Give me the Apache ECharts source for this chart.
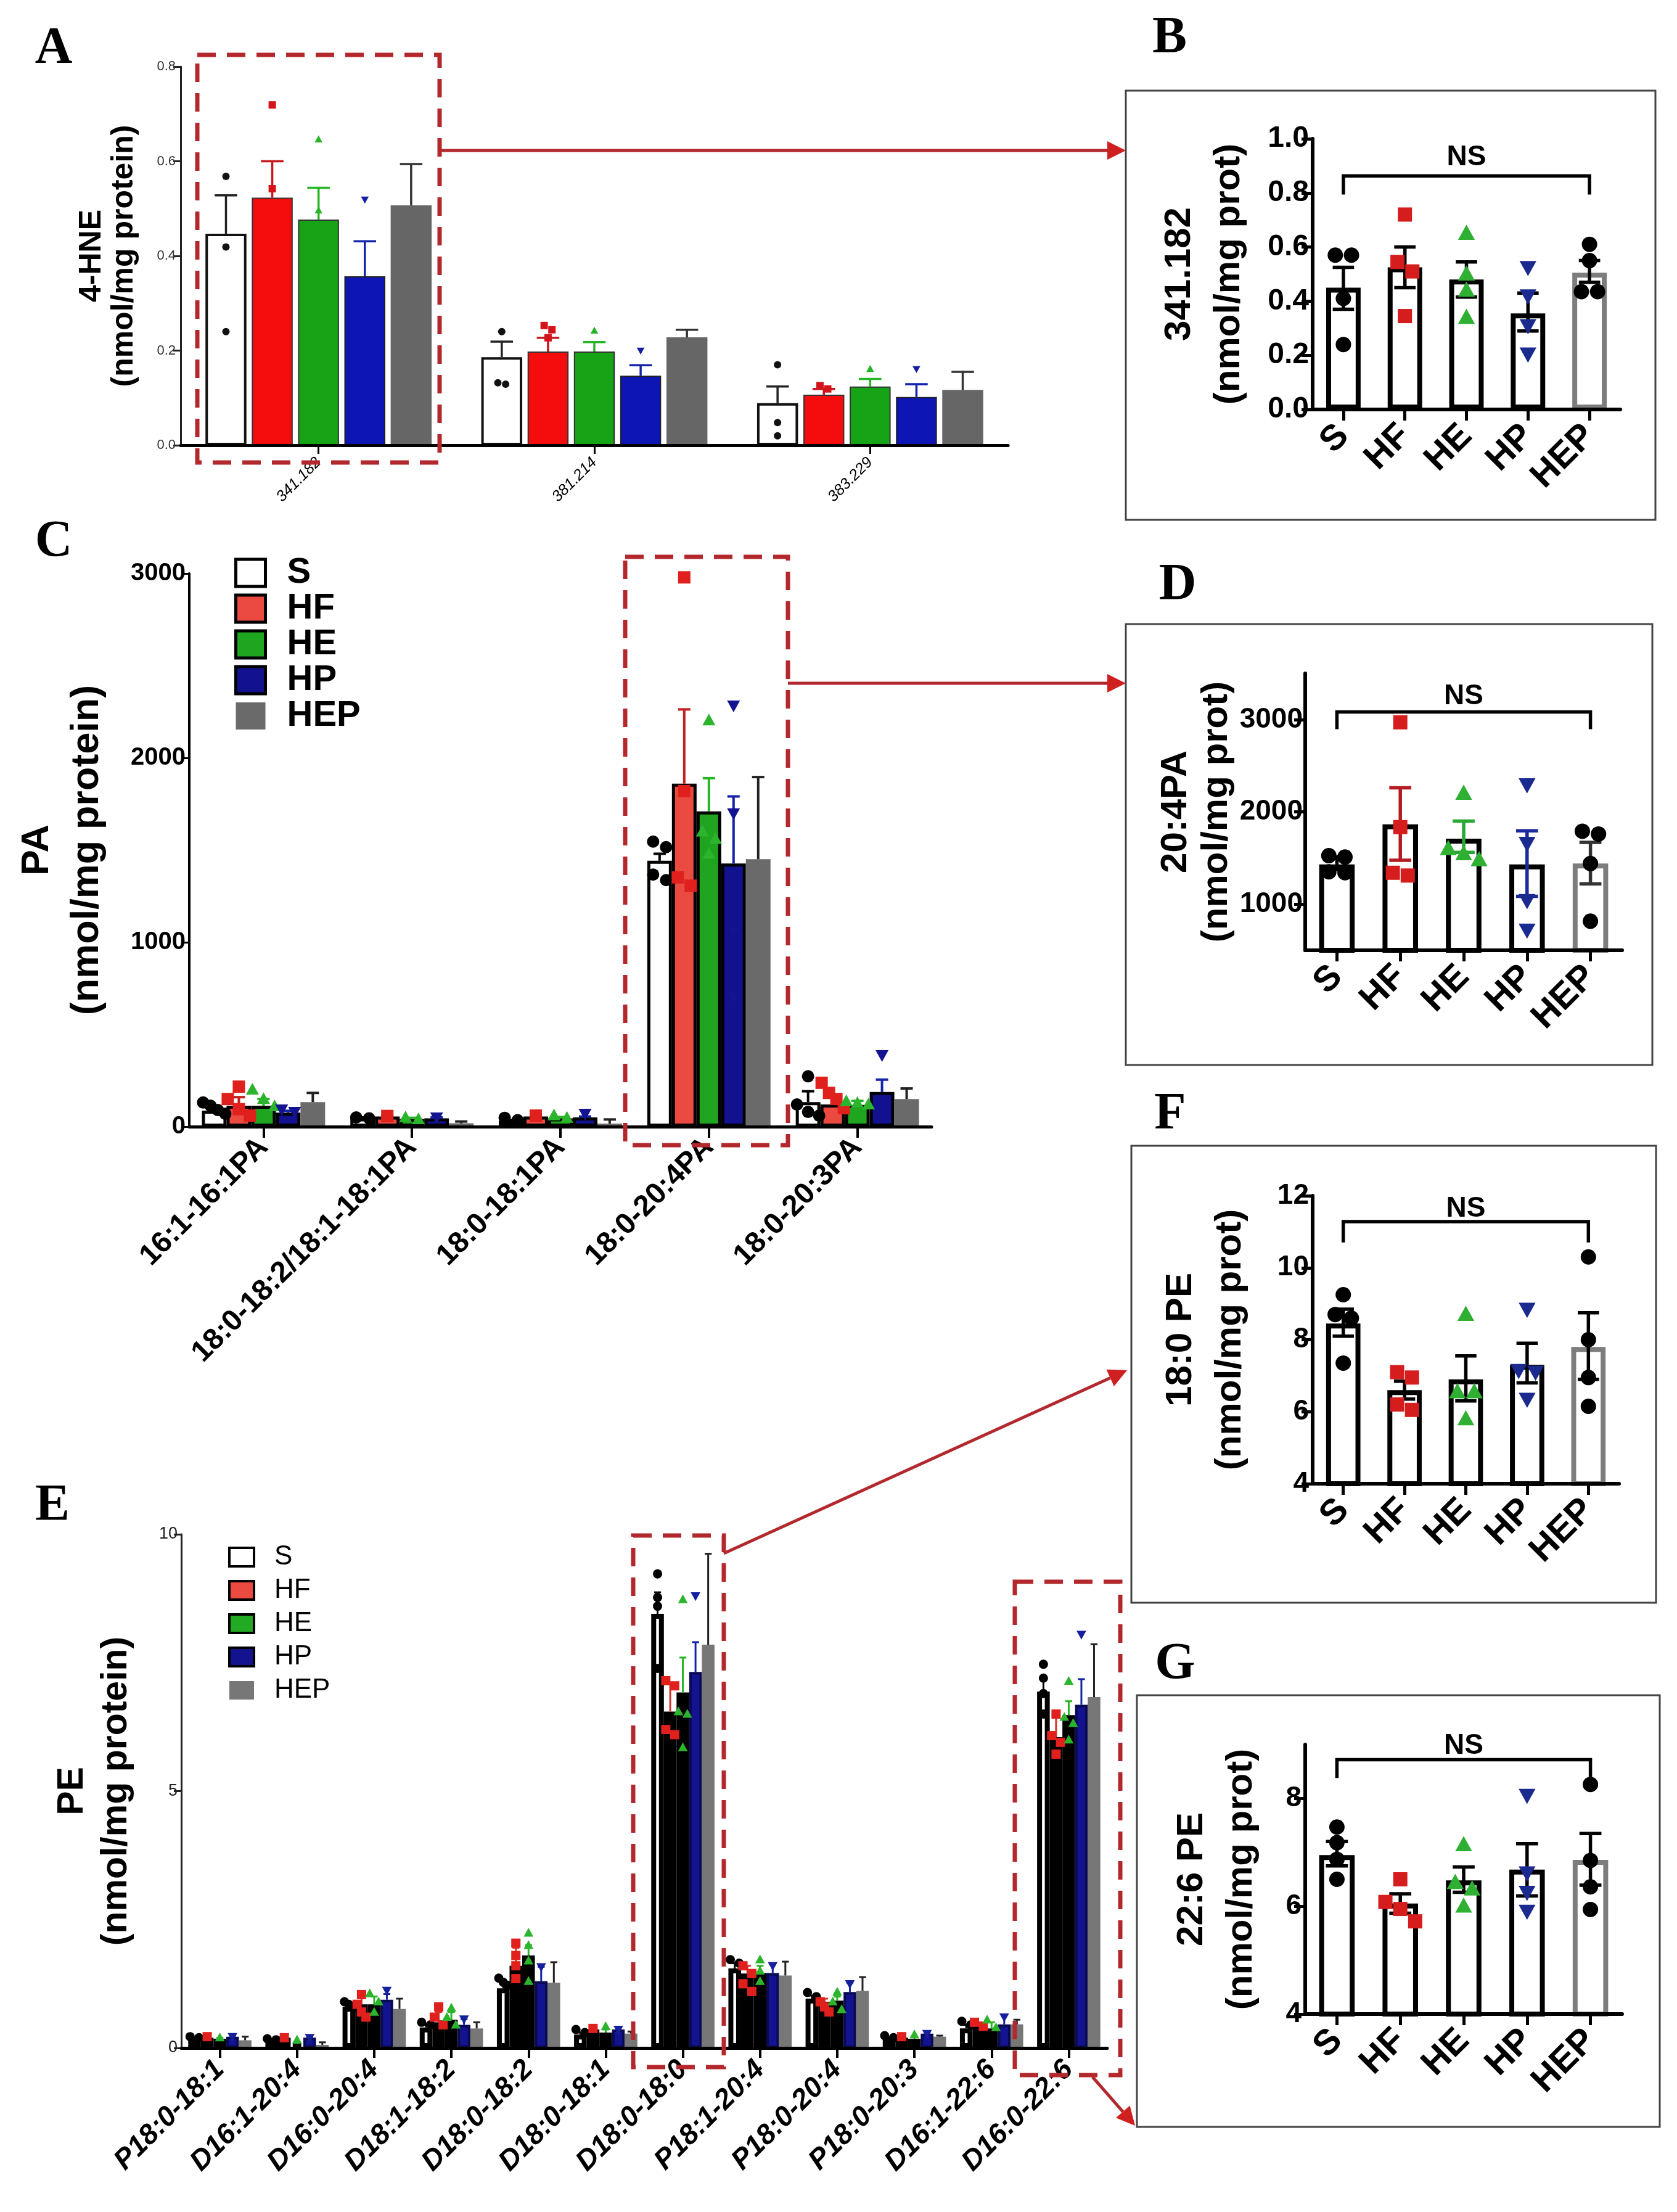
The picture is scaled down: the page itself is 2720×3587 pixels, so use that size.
<!DOCTYPE html>
<html><head><meta charset="utf-8">
<script src="https://cdn.jsdelivr.net/npm/echarts@6/dist/echarts.min.js"></script>
<style>html,body{margin:0;padding:0;background:#fff;}#c{width:2720px;height:3587px;}</style>
</head><body><div id="c"></div>
<script>
// ---------------- DATA ----------------
const GROUPS = ['S', 'HF', 'HE', 'HP', 'HEP'];

// Panel A : 4-HNE (mean, upper SEM end, individual points)
const A_cats = ['341.182', '381.214', '383.229'];
const A_S_mean = [0.447, 0.186, 0.089];
const A_S_hi = [0.528, 0.219, 0.124];
const A_S_pts = [[0.568, 0.419, 0.240], [0.240, 0.132, 0.129], [0.170, 0.048, 0.020]];
const A_HF_mean = [0.523, 0.198, 0.107];
const A_HF_hi = [0.600, 0.227, 0.119];
const A_HF_pts = [[0.719, 0.542], [0.253, 0.244, 0.227], [0.126, 0.119]];
const A_HE_mean = [0.477, 0.198, 0.124];
const A_HE_hi = [0.544, 0.218, 0.140];
const A_HE_pts = [[0.646, 0.496], [0.242], [0.161]];
const A_HP_mean = [0.357, 0.147, 0.102];
const A_HP_hi = [0.431, 0.169, 0.129];
const A_HP_pts = [[0.519], [0.200], [0.161]];
const A_HEP_mean = [0.507, 0.228, 0.117];
const A_HEP_hi = [0.594, 0.244, 0.155];
const A_HEP_pts = [[], [], []];

// Panel B : 341.182
const B_mean = [0.45, 0.525, 0.48, 0.355, 0.505];
const B_lo = [0.37, 0.45, 0.415, 0.29, 0.47];
const B_hi = [0.525, 0.60, 0.545, 0.43, 0.55];
const B_pts = [[0.57, 0.57, 0.41, 0.24], [0.72, 0.545, 0.51, 0.345], [0.65, 0.50, 0.44, 0.34], [0.525, 0.42, 0.31, 0.205], [0.61, 0.55, 0.435, 0.435]];

// Panel C : PA
const C_cats = ['16:1-16:1PA', '18:0-18:2/18:1-18:1PA', '18:0-18:1PA', '18:0-20:4PA', '18:0-20:3PA'];
const C_S_mean = [87, 45, 30, 1442, 133];
const C_S_hi = [100, 50, 36, 1480, 192];
const C_S_pts = [[131, 114, 90, 70], [50, 45], [48, 35], [1546, 1516, 1367, 1337], [273, 120, 80, 60]];
const C_HF_mean = [114, 55, 55, 1860, 120];
const C_HF_hi = [160, 60, 60, 2263, 165];
const C_HF_pts = [[217, 150, 95, 60], [58], [60], [2979, 1820, 1352, 1307], [238, 183, 150, 100]];
const C_HE_mean = [114, 42, 45, 1710, 118];
const C_HE_hi = [150, 48, 52, 1890, 140];
const C_HE_pts = [[201, 150, 110], [50, 40], [61, 48], [2203, 1600, 1560, 1480], [138, 128, 120]];
const C_HP_mean = [76, 45, 50, 1427, 188];
const C_HP_hi = [86, 50, 55, 1791, 255];
const C_HP_pts = [[94, 80], [50], [70], [2284, 1700, 1050, 700], [388]];
const C_HEP_mean = [133, 18, 17, 1451, 150];
const C_HEP_hi = [183, 28, 39, 1896, 207];
const C_HEP_pts = [[], [], [], [], []];

// Panel D : 20:4PA
const D_mean = [1430, 1865, 1710, 1430, 1440];
const D_lo = [1375, 1475, 1560, 1085, 1220];
const D_hi = [1510, 2260, 1900, 1795, 1670];
const D_pts = [[1525, 1510, 1350, 1340], [2970, 1835, 1340, 1310], [2200, 1600, 1545, 1480], [2295, 1660, 1040, 720], [1790, 1760, 1440, 815]];
const D_ticks = [1000, 2000, 3000];

// Panel E : PE
const E_cats = ['P18:0-18:1', 'D16:1-20:4', 'D16:0-20:4', 'D18:1-18:2', 'D18:0-18:2', 'D18:0-18:1', 'D18:0-18:0', 'P18:1-20:4', 'P18:0-20:4', 'P18:0-20:3', 'D16:1-22:6', 'D16:0-22:6'];
const E_S_mean = [0.18, 0.14, 0.80, 0.40, 1.16, 0.26, 8.45, 1.55, 0.96, 0.18, 0.38, 6.94];
const E_S_hi = [0.20, 0.16, 0.86, 0.45, 1.26, 0.30, 8.87, 1.65, 1.02, 0.20, 0.45, 7.20];
const E_S_pts = [[0.22, 0.20], [0.18, 0.16], [0.90, 0.85, 0.78], [0.50, 0.45], [1.36, 1.28, 1.22], [0.36, 0.30], [9.23, 8.77, 8.60, 7.39], [1.72, 1.65], [1.08, 1.00], [0.24, 0.20], [0.52, 0.45], [7.47, 7.20, 6.90, 6.50]];
const E_HF_mean = [0.20, 0.20, 0.85, 0.50, 1.60, 0.36, 6.55, 1.45, 0.90, 0.20, 0.45, 6.05];
const E_HF_hi = [0.22, 0.22, 1.00, 0.70, 1.95, 0.38, 7.10, 1.60, 0.96, 0.22, 0.50, 6.50];
const E_HF_pts = [[0.22], [0.20], [1.04, 0.85, 0.70, 0.60], [0.80, 0.60, 0.45], [2.04, 1.80, 1.60, 1.35], [0.38], [7.15, 7.05, 6.20, 6.10], [1.60, 1.45, 1.25, 1.10], [0.90, 0.80, 0.70], [0.22], [0.50, 0.42], [6.50, 6.08, 5.95, 5.72]];
const E_HE_mean = [0.18, 0.08, 0.85, 0.55, 1.80, 0.30, 6.92, 1.46, 0.92, 0.18, 0.38, 6.48];
const E_HE_hi = [0.20, 0.10, 1.00, 0.70, 2.00, 0.36, 7.60, 1.60, 1.00, 0.22, 0.50, 6.75];
const E_HE_pts = [[0.20], [0.16], [1.06, 0.90, 0.70], [0.78, 0.60, 0.45], [2.24, 2.00, 1.70, 1.30], [0.42], [8.73, 6.55, 6.50, 5.85], [1.72, 1.50, 1.30], [1.09, 0.90, 0.75], [0.26], [0.55, 0.40], [7.14, 6.44, 6.32, 6.00]];
const E_HP_mean = [0.22, 0.20, 0.94, 0.45, 1.30, 0.36, 7.32, 1.46, 1.09, 0.28, 0.46, 6.68];
const E_HP_hi = [0.24, 0.22, 1.05, 0.56, 1.58, 0.40, 7.90, 1.63, 1.27, 0.30, 0.65, 7.18];
const E_HP_pts = [[0.22], [0.20], [1.12], [0.56], [1.58], [0.36], [8.80], [1.60], [1.25], [0.28], [0.60], [8.05]];
const E_HEP_mean = [0.15, 0.06, 0.76, 0.38, 1.27, 0.28, 7.85, 1.41, 1.11, 0.22, 0.46, 6.83];
const E_HEP_hi = [0.22, 0.11, 0.96, 0.50, 1.67, 0.32, 9.62, 1.68, 1.38, 0.24, 0.55, 7.86];
const E_HEP_pts = [[], [], [], [], [], [], [], [], [], [], [], []];

// Panel F : 18:0 PE
const F_mean = [8.45, 6.6, 6.9, 7.3, 7.8];
const F_lo = [8.1, 6.35, 6.3, 6.8, 6.9];
const F_hi = [8.85, 6.85, 7.55, 7.9, 8.75];
const F_pts = [[9.25, 8.7, 8.6, 7.35], [7.1, 6.95, 6.2, 6.05], [8.7, 6.55, 6.55, 5.8], [8.85, 7.15, 7.1, 6.35], [10.3, 8.0, 6.95, 6.15]];

// Panel G : 22:6 PE
const G_mean = [6.95, 6.05, 6.48, 6.68, 6.86];
const G_lo = [6.75, 5.87, 6.26, 6.19, 6.39];
const G_hi = [7.2, 6.23, 6.73, 7.16, 7.35];
const G_pts = [[7.47, 7.18, 6.87, 6.5], [6.5, 6.08, 5.95, 5.72], [7.14, 6.44, 6.32, 6.0], [8.06, 6.62, 6.26, 5.91], [8.26, 6.85, 6.36, 5.94]];
const G_ticks = [4, 6, 8];

// ---------------- STYLE ----------------
const SANS = 'Liberation Sans, Arial, Helvetica, sans-serif';
const SERIF = 'Liberation Serif, Times New Roman, serif';
const RED = '#b3282d';
const SHAPES = ['circle', 'square', 'tri', 'itri', 'circle'];

function sym(shape, cx, cy, d, color) {
  const r = d / 2;
  if (shape === 'circle') return { type: 'circle', shape: { cx: cx, cy: cy, r: r }, style: { fill: color } };
  if (shape === 'square') return { type: 'rect', shape: { x: cx - r, y: cy - r, width: d, height: d }, style: { fill: color } };
  if (shape === 'tri') return { type: 'polygon', shape: { points: [[cx, cy - r * 1.1], [cx + r * 1.05, cy + r * 0.8], [cx - r * 1.05, cy + r * 0.8]] }, style: { fill: color } };
  return { type: 'polygon', shape: { points: [[cx - r * 1.05, cy - r * 0.8], [cx + r * 1.05, cy - r * 0.8], [cx, cy + r * 1.1]] }, style: { fill: color } };
}

function jitter(ys, k, d, maxStep) {
  const idx = ys.map((y, j) => j).sort((a, b) => ys[a] - ys[b]);
  const clusters = [];
  let cur = [idx[0]];
  for (let t = 1; t < idx.length; t++) {
    if (ys[idx[t]] - ys[cur[cur.length - 1]] < d * 0.9) cur.push(idx[t]);
    else { clusters.push(cur); cur = [idx[t]]; }
  }
  clusters.push(cur);
  for (const cl of clusters) {
    const pos = cl.indexOf(k);
    if (pos >= 0) {
      const step = Math.min(d * 1.05, cl.length > 1 ? maxStep / (cl.length - 1) : d);
      return (pos - (cl.length - 1) / 2) * step;
    }
  }
  return 0;
}

const grids = [], xAxes = [], yAxes = [], series = [];

function vAxis(o) {
  const ax = {
    type: 'value', gridIndex: o.g, min: o.min, max: o.max, interval: o.interval,
    axisLine: { show: true, onZero: false, lineStyle: { color: o.lineColor || '#000', width: o.lineWidth } },
    axisTick: { show: true, length: o.tickLen, lineStyle: { color: o.lineColor || '#000', width: o.tickWidth } },
    axisLabel: { fontFamily: SANS, fontSize: o.labelSize, fontWeight: o.labelWeight, color: o.labelColor || '#000', margin: o.labelMargin, formatter: o.fmt || (v => String(v)) },
    splitLine: { show: false },
    name: o.name, nameLocation: 'middle', nameRotate: 90, nameGap: o.nameGap,
    nameTextStyle: { fontFamily: SANS, fontSize: o.nameSize, fontWeight: 'bold', color: '#000', lineHeight: o.nameLH, align: 'center' }
  };
  if (o.custom) { ax.axisTick.customValues = o.custom; ax.axisLabel.customValues = o.custom; }
  return ax;
}
function cAxis(o) {
  return {
    type: 'category', gridIndex: o.g, data: o.cats, z: 10,
    axisLine: { show: true, onZero: false, lineStyle: { color: '#000', width: o.lineWidth } },
    axisTick: { show: true, alignWithLabel: true, length: o.tickLen, lineStyle: { color: '#000', width: o.tickWidth } },
    axisLabel: { interval: 0, rotate: 45, fontFamily: SANS, fontSize: o.labelSize, fontWeight: o.labelWeight || 'bold', fontStyle: o.italic ? 'italic' : 'normal', color: '#000', margin: o.labelMargin },
    splitLine: { show: false }
  };
}

function groupLayout(api, i, P) {
  const band = api.size([1, 0])[0];
  const remained = band * (1 - P.catGap);
  const w = remained / (5 + 4 * P.barGap);
  const widthSum = 5 * w + 4 * w * P.barGap;
  return { off: -widthSum / 2 + i * w * (1 + P.barGap) + w / 2, w: w };
}

function addGrouped(P) {
  P.means.forEach((m, i) => {
    series.push({
      type: 'bar', name: P.prefix + GROUPS[i], xAxisIndex: P.g, yAxisIndex: P.g, data: m,
      barGap: (P.barGap * 100) + '%', barCategoryGap: (P.catGap * 100) + '%',
      itemStyle: { color: P.fills[i], borderColor: P.borders[i], borderWidth: P.bws[i] }, z: 2, silent: true
    });
  });
  P.means.forEach((m, i) => {
    series.push({
      type: 'custom', xAxisIndex: P.g, yAxisIndex: P.g, z: 3, silent: true,
      data: m.map((v, c) => [c, v, P.his[i][c]]), encode: { x: 0, y: [1, 2] },
      renderItem: function (params, api) {
        const c = api.value(0); const L = groupLayout(api, i, P);
        const pm = api.coord([c, api.value(1)]), ph = api.coord([c, api.value(2)]);
        const x = pm[0] + L.off, hw = L.w * P.capFrac / 2;
        const st = { stroke: P.errColors[i], lineWidth: P.errW };
        return { type: 'group', children: [
          { type: 'line', shape: { x1: x, y1: pm[1], x2: x, y2: ph[1] }, style: st },
          { type: 'line', shape: { x1: x - hw, y1: ph[1], x2: x + hw, y2: ph[1] }, style: st }
        ] };
      }
    });
  });
  P.pts.forEach((arr, i) => {
    const data = [];
    arr.forEach((vals, c) => vals.forEach((v, k) => data.push([c, v, k])));
    series.push({
      type: 'custom', xAxisIndex: P.g, yAxisIndex: P.g, z: 4, silent: true, data: data, encode: { x: 0, y: 1 },
      renderItem: function (params, api) {
        const c = api.value(0), v = api.value(1), k = api.value(2);
        const L = groupLayout(api, i, P);
        const base = api.coord([c, v]);
        const ys = arr[c].map(val => api.coord([c, val])[1]);
        const dx = jitter(ys, k, P.ptSize, L.w * P.spread);
        return sym(SHAPES[i], base[0] + L.off + dx, base[1], P.ptSize, P.ptColors[i]);
      }
    });
  });
}

function addSingle(P) {
  series.push({
    type: 'bar', xAxisIndex: P.g, yAxisIndex: P.g, barWidth: '56%', z: 2, silent: true,
    data: P.mean.map((v, i) => ({ value: v, itemStyle: { borderColor: i === 4 ? '#7d7d7d' : '#000' } })),
    itemStyle: { color: '#fff', borderWidth: 8 }
  });
  series.push({
    type: 'custom', xAxisIndex: P.g, yAxisIndex: P.g, z: 3, silent: true,
    data: P.mean.map((v, i) => [i, P.lo[i], P.hi[i]]), encode: { x: 0, y: [1, 2] },
    renderItem: function (params, api) {
      const i = api.value(0);
      const pl = api.coord([i, api.value(1)]), ph = api.coord([i, api.value(2)]);
      const hw = api.size([1, 0])[0] * 0.56 * 0.62 / 2;
      const st = { stroke: P.errColors[i], lineWidth: 5.5 };
      return { type: 'group', children: [
        { type: 'line', shape: { x1: pl[0], y1: pl[1], x2: ph[0], y2: ph[1] }, style: st },
        { type: 'line', shape: { x1: ph[0] - hw, y1: ph[1], x2: ph[0] + hw, y2: ph[1] }, style: st },
        { type: 'line', shape: { x1: pl[0] - hw, y1: pl[1], x2: pl[0] + hw, y2: pl[1] }, style: st }
      ] };
    }
  });
  const data = [];
  P.pts.forEach((vals, i) => vals.forEach((v, k) => data.push([i, v, k])));
  series.push({
    type: 'custom', xAxisIndex: P.g, yAxisIndex: P.g, z: 4, silent: true, data: data, encode: { x: 0, y: 1 },
    renderItem: function (params, api) {
      const i = api.value(0), v = api.value(1), k = api.value(2);
      const base = api.coord([i, v]);
      const ys = P.pts[i].map(val => api.coord([i, val])[1]);
      const d = SHAPES[i] === 'circle' ? 25 : (SHAPES[i] === 'square' ? 23 : 26);
      const dx = jitter(ys, k, d, 50);
      return sym(SHAPES[i], base[0] + dx, base[1], d, P.ptColors[i]);
    }
  });
  series.push({
    type: 'line', xAxisIndex: P.g, yAxisIndex: P.g, z: 3, silent: true, symbol: 'none', clip: false,
    data: [[0, P.bracket[0]], [0, P.bracket[1]], [4, P.bracket[1]], [4, P.bracket[0]]],
    lineStyle: { color: '#000', width: 5.5, join: 'miter', cap: 'square' }
  });
  series.push({
    type: 'custom', xAxisIndex: P.g, yAxisIndex: P.g, z: 4, silent: true, data: [[2, P.nsY]], encode: { x: 0, y: 1 },
    renderItem: function (params, api) {
      const p = api.coord([api.value(0), api.value(1)]);
      return { type: 'text', x: p[0], y: p[1], style: { text: 'NS', fontFamily: SANS, fontWeight: 'bold', fontSize: 46, fill: '#000', align: 'center', verticalAlign: 'middle' } };
    }
  });
}

// ---------------- PANEL A ----------------
grids.push({ left: 293, top: 108, width: 1342, height: 614 });
xAxes.push(cAxis({ g: 0, cats: A_cats, lineWidth: 5, tickLen: 14, tickWidth: 3, labelSize: 25, labelWeight: 'normal', italic: true, labelMargin: 24 }));
yAxes.push(vAxis({ g: 0, min: 0, max: 0.8, interval: 0.2, lineWidth: 3, lineColor: '#222', tickLen: 12, tickWidth: 3, labelSize: 22, labelWeight: 'normal', labelColor: '#333', labelMargin: 8,
  fmt: v => v.toFixed(1), name: '4-HNE\n(nmol/mg protein)', nameGap: 66, nameSize: 50, nameLH: 52 }));
addGrouped({ g: 0, prefix: 'A-', catGap: 0.18, barGap: 0.13,
  means: [A_S_mean, A_HF_mean, A_HE_mean, A_HP_mean, A_HEP_mean],
  his: [A_S_hi, A_HF_hi, A_HE_hi, A_HP_hi, A_HEP_hi],
  pts: [A_S_pts, A_HF_pts, A_HE_pts, A_HP_pts, A_HEP_pts],
  fills: ['#ffffff', '#f50d0d', '#16a316', '#0d15b5', '#666666'],
  borders: ['#111', '#333', '#333', '#222', '#666'], bws: [4, 2, 2, 2, 0],
  errColors: ['#222', '#c4161c', '#25b525', '#1424a8', '#333'], errW: 3.5, capFrac: 0.55,
  ptColors: ['#111', '#d4141b', '#28b428', '#1420a0', '#111'], ptSize: 12, spread: 0.9 });

// ---------------- PANEL B ----------------
grids.push({ left: 2129, top: 225, width: 499, height: 439 });
xAxes.push(cAxis({ g: 1, cats: GROUPS, lineWidth: 6, tickLen: 18, tickWidth: 5, labelSize: 58, labelMargin: 34 }));
yAxes.push(vAxis({ g: 1, min: 0, max: 1.0, interval: 0.2, lineWidth: 6, tickLen: 18, tickWidth: 5, labelSize: 48, labelWeight: 'bold', labelMargin: 6,
  fmt: v => v.toFixed(1), name: '341.182\n(nmol/mg prot)', nameGap: 96, nameSize: 60, nameLH: 80 }));
addSingle({ g: 1, mean: B_mean, lo: B_lo, hi: B_hi, pts: B_pts, bracket: [0.80, 0.863], nsY: 0.93,
  errColors: ['#000', '#000', '#000', '#000', '#000'], ptColors: ['#000', '#d61d1d', '#2fb033', '#1b2a8e', '#000'] });

// ---------------- PANEL C ----------------
grids.push({ left: 307, top: 930, width: 1204, height: 897 });
xAxes.push(cAxis({ g: 2, cats: C_cats, lineWidth: 5, tickLen: 18, tickWidth: 4, labelSize: 48, labelMargin: 26 }));
yAxes.push(vAxis({ g: 2, min: 0, max: 3000, interval: 1000, lineWidth: 4, tickLen: 12, tickWidth: 3, labelSize: 40, labelWeight: 'bold', labelMargin: 6,
  name: 'PA\n(nmol/mg protein)', nameGap: 125, nameSize: 63, nameLH: 81 }));
addGrouped({ g: 2, prefix: 'C-', catGap: 0.17, barGap: 0.0,
  means: [C_S_mean, C_HF_mean, C_HE_mean, C_HP_mean, C_HEP_mean],
  his: [C_S_hi, C_HF_hi, C_HE_hi, C_HP_hi, C_HEP_hi],
  pts: [C_S_pts, C_HF_pts, C_HE_pts, C_HP_pts, C_HEP_pts],
  fills: ['#ffffff', '#ea4a40', '#1fa51f', '#121290', '#6a6a6a'],
  borders: ['#000', '#000', '#000', '#000', '#6a6a6a'], bws: [5, 5, 5, 5, 0],
  errColors: ['#000', '#c42020', '#25b525', '#1424a8', '#222'], errW: 4, capFrac: 0.5,
  ptColors: ['#000', '#e0201c', '#2db42d', '#141490', '#000'], ptSize: 20, spread: 0.9 });

// ---------------- PANEL D ----------------
grids.push({ left: 2117, top: 1092, width: 514, height: 449 });
xAxes.push(cAxis({ g: 3, cats: GROUPS, lineWidth: 6, tickLen: 18, tickWidth: 5, labelSize: 58, labelMargin: 34 }));
yAxes.push(vAxis({ g: 3, min: 500, max: 3500, interval: 500, custom: D_ticks, lineWidth: 6, tickLen: 18, tickWidth: 5, labelSize: 46, labelWeight: 'bold', labelMargin: 4,
  name: '20:4PA\n(nmol/mg prot)', nameGap: 98, nameSize: 60, nameLH: 66 }));
addSingle({ g: 3, mean: D_mean, lo: D_lo, hi: D_hi, pts: D_pts, bracket: [2913, 3083], nsY: 3254,
  errColors: ['#000', '#b51c22', '#2aa834', '#1a2a9c', '#333'], ptColors: ['#000', '#d61d1d', '#2fb033', '#1b2a8e', '#000'] });

// ---------------- PANEL E ----------------
grids.push({ left: 294, top: 2488, width: 1502, height: 833 });
xAxes.push(cAxis({ g: 4, cats: E_cats, lineWidth: 5, tickLen: 16, tickWidth: 4, labelSize: 46, italic: true, labelMargin: 28 }));
yAxes.push(vAxis({ g: 4, min: 0, max: 10, interval: 5, lineWidth: 3, lineColor: '#222', tickLen: 12, tickWidth: 3, labelSize: 27, labelWeight: 'normal', labelColor: '#222', labelMargin: 6,
  name: 'PE\n(nmol/mg protein)', nameGap: 70, nameSize: 59, nameLH: 71 }));
addGrouped({ g: 4, prefix: 'E-', catGap: 0.18, barGap: 0.0,
  means: [E_S_mean, E_HF_mean, E_HE_mean, E_HP_mean, E_HEP_mean],
  his: [E_S_hi, E_HF_hi, E_HE_hi, E_HP_hi, E_HEP_hi],
  pts: [E_S_pts, E_HF_pts, E_HE_pts, E_HP_pts, E_HEP_pts],
  fills: ['#ffffff', '#ea4a40', '#22aa22', '#13138f', '#777777'],
  borders: ['#000', '#000', '#000', '#0a0a50', '#777'], bws: [8, 11, 11, 4, 0],
  errColors: ['#000', '#d8302a', '#25b525', '#1424a8', '#222'], errW: 3, capFrac: 0.55,
  ptColors: ['#000', '#e0201c', '#2db42d', '#16209c', '#000'], ptSize: 15, spread: 0.7 });

// ---------------- PANEL F ----------------
grids.push({ left: 2129, top: 1939, width: 497, height: 467 });
xAxes.push(cAxis({ g: 5, cats: GROUPS, lineWidth: 6, tickLen: 18, tickWidth: 5, labelSize: 58, labelMargin: 34 }));
yAxes.push(vAxis({ g: 5, min: 4, max: 12, interval: 2, lineWidth: 6, tickLen: 18, tickWidth: 5, labelSize: 46, labelWeight: 'bold', labelMargin: 6,
  name: '18:0 PE\n(nmol/mg prot)', nameGap: 94, nameSize: 60, nameLH: 80 }));
addSingle({ g: 5, mean: F_mean, lo: F_lo, hi: F_hi, pts: F_pts, bracket: [10.75, 11.28], nsY: 11.64,
  errColors: ['#000', '#000', '#000', '#000', '#000'], ptColors: ['#000', '#d61d1d', '#2fb033', '#1b2a8e', '#000'] });

// ---------------- PANEL G ----------------
grids.push({ left: 2117, top: 2829, width: 514, height: 437 });
xAxes.push(cAxis({ g: 6, cats: GROUPS, lineWidth: 6, tickLen: 18, tickWidth: 5, labelSize: 58, labelMargin: 34 }));
yAxes.push(vAxis({ g: 6, min: 4, max: 9, interval: 1, custom: G_ticks, lineWidth: 6, tickLen: 18, tickWidth: 5, labelSize: 46, labelWeight: 'bold', labelMargin: 6,
  name: '22:6 PE\n(nmol/mg prot)', nameGap: 64, nameSize: 60, nameLH: 80 }));
addSingle({ g: 6, mean: G_mean, lo: G_lo, hi: G_hi, pts: G_pts, bracket: [8.41, 8.72], nsY: 8.97,
  errColors: ['#000', '#000', '#000', '#000', '#000'], ptColors: ['#000', '#d61d1d', '#2fb033', '#1b2a8e', '#000'] });

grids.forEach(g => { g.containLabel = false; g.outerBoundsMode = 'none'; });

// ---------------- LEGENDS ----------------
function legendData(prefix, bw) {
  return GROUPS.map((g, i) => ({ name: prefix + g, itemStyle: i === 4 ? { borderWidth: 0 } : { borderColor: '#000', borderWidth: bw } }));
}
const legends = [
  { orient: 'vertical', left: 380, top: 900, padding: 0, itemWidth: 48, itemHeight: 44, itemGap: 0, icon: 'rect', selectedMode: false,
    data: legendData('C-', 5), formatter: n => n.slice(2),
    textStyle: { fontFamily: SANS, fontSize: 58, fontWeight: 'bold', color: '#000', padding: [0, 0, 0, 30] } },
  { orient: 'vertical', left: 370, top: 2503, padding: 0, itemWidth: 40, itemHeight: 30, itemGap: 10, icon: 'rect', selectedMode: false,
    data: legendData('E-', 4), formatter: n => n.slice(2),
    textStyle: { fontFamily: SANS, fontSize: 44, fontWeight: 'normal', color: '#000', padding: [0, 0, 0, 28] } }
];

// ---------------- ANNOTATIONS ----------------
function letter(t, x, y) {
  return { type: 'text', x: x, y: y, z: 100, style: { text: t, fontFamily: SERIF, fontWeight: 'bold', fontSize: 84, fill: '#000', align: 'center', verticalAlign: 'middle' } };
}
function frame(x, y, w, h) {
  return { type: 'rect', z: 1, shape: { x: x, y: y, width: w, height: h }, style: { fill: 'none', stroke: '#444', lineWidth: 3 } };
}
function dashBox(x, y, w, h) {
  return { type: 'rect', z: 50, shape: { x: x, y: y, width: w, height: h }, style: { fill: 'none', stroke: RED, lineWidth: 7, lineDash: [30, 18] } };
}
function arrow(x1, y1, x2, y2) {
  const dx = x2 - x1, dy = y2 - y1, L = Math.sqrt(dx * dx + dy * dy);
  const ux = dx / L, uy = dy / L, hl = 30, hw = 15;
  const bx = x2 - ux * hl, by = y2 - uy * hl;
  return [
    { type: 'line', z: 50, shape: { x1: x1, y1: y1, x2: bx, y2: by }, style: { stroke: RED, lineWidth: 5 } },
    { type: 'polygon', z: 50, shape: { points: [[x2, y2], [bx - uy * hw, by + ux * hw], [bx + uy * hw, by - ux * hw]] }, style: { fill: '#d01f1f' } }
  ];
}
const graphics = [
  letter('A', 87, 80), letter('B', 1897, 63), letter('C', 87, 880), letter('D', 1910, 950),
  letter('E', 85, 2443), letter('F', 1898, 1808), letter('G', 1906, 2700),
  frame(1826, 147, 859, 696), frame(1826, 1012, 854, 715), frame(1835, 1858, 851, 741), frame(1844, 2749, 848, 700),
  dashBox(320, 89, 393, 661), dashBox(1014, 903, 264, 954), dashBox(1027, 2490, 147, 862), dashBox(1646, 2565, 171, 800)
].concat(arrow(713, 244, 1826, 244), arrow(1278, 1108, 1826, 1108), arrow(1174, 2519, 1828, 2222), arrow(1772, 3368, 1841, 3447));

const chart = echarts.init(document.getElementById('c'), null, { renderer: 'canvas', width: 2720, height: 3587 });
chart.setOption({
  animation: false, backgroundColor: '#fff',
  grid: grids, xAxis: xAxes, yAxis: yAxes, legend: legends, series: series,
  graphic: { elements: graphics }
});
</script></body></html>
